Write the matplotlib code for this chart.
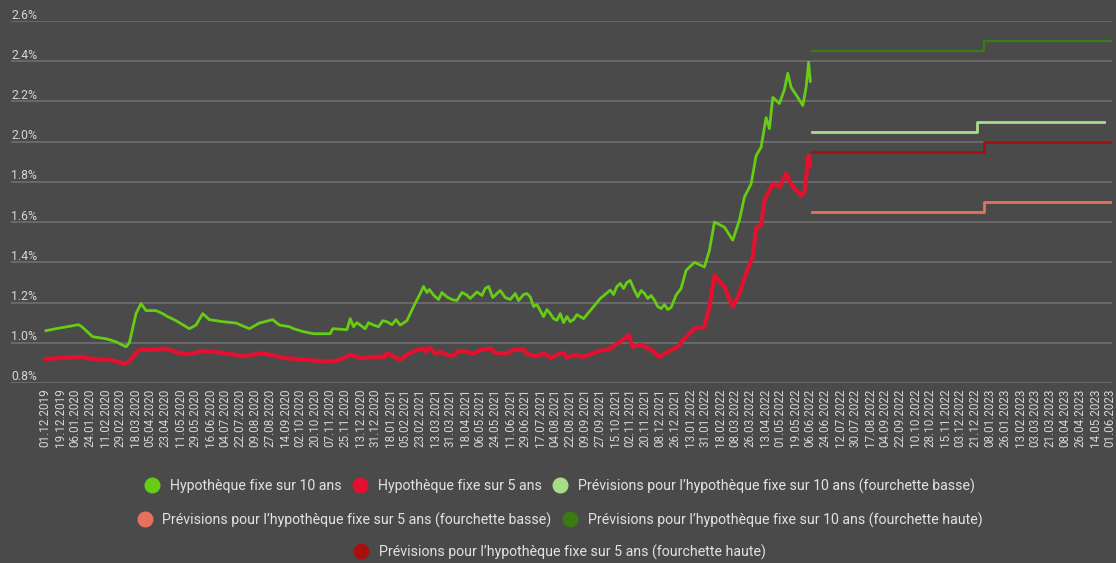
import numpy as np
import pandas as pd
import matplotlib
matplotlib.use("Agg")
import matplotlib.pyplot as plt
import matplotlib.transforms as mtransforms
from matplotlib.lines import Line2D

plt.rcParams['font.family'] = ['Roboto', 'DejaVu Sans']

# taux hypothecaire fixe 10 ans
dates_10 = ["2019-12-02", "2019-12-14", "2020-01-10", "2020-01-14", "2020-01-27", "2020-02-12",
            "2020-02-24", "2020-03-07", "2020-03-11", "2020-03-19", "2020-03-25", "2020-03-31",
            "2020-04-12", "2020-04-20", "2020-04-26", "2020-05-06", "2020-05-22", "2020-05-30",
            "2020-06-07", "2020-06-15", "2020-07-01", "2020-07-17", "2020-08-02", "2020-08-14",
            "2020-08-30", "2020-09-07", "2020-09-19", "2020-09-24", "2020-10-06", "2020-10-18",
            "2020-11-07", "2020-11-10", "2020-11-27", "2020-12-01", "2020-12-05", "2020-12-09",
            "2020-12-13", "2020-12-19", "2020-12-23", "2020-12-29", "2021-01-04", "2021-01-09",
            "2021-01-14", "2021-01-20", "2021-01-25", "2021-01-30", "2021-02-07", "2021-02-15",
            "2021-02-23", "2021-02-27", "2021-03-03", "2021-03-06", "2021-03-11", "2021-03-17",
            "2021-03-21", "2021-03-27", "2021-04-02", "2021-04-08", "2021-04-14", "2021-04-20",
            "2021-04-24", "2021-05-02", "2021-05-08", "2021-05-12", "2021-05-16", "2021-05-21",
            "2021-05-26", "2021-05-30", "2021-06-05", "2021-06-11", "2021-06-17", "2021-06-21",
            "2021-06-27", "2021-07-01", "2021-07-05", "2021-07-09", "2021-07-13", "2021-07-17",
            "2021-07-21", "2021-07-25", "2021-07-29", "2021-08-02", "2021-08-06", "2021-08-10",
            "2021-08-14", "2021-08-18", "2021-08-22", "2021-08-26", "2021-08-30", "2021-09-03",
            "2021-09-07", "2021-09-15", "2021-09-27", "2021-10-09", "2021-10-13", "2021-10-17",
            "2021-10-21", "2021-10-25", "2021-10-29", "2021-11-02", "2021-11-06", "2021-11-11",
            "2021-11-15", "2021-11-19", "2021-11-23", "2021-11-27", "2021-12-01", "2021-12-05",
            "2021-12-09", "2021-12-13", "2021-12-17", "2021-12-21", "2021-12-27", "2022-01-02",
            "2022-01-08", "2022-01-18", "2022-01-30", "2022-02-05", "2022-02-11", "2022-02-23",
            "2022-03-05", "2022-03-13", "2022-03-19", "2022-03-27", "2022-04-02", "2022-04-08",
            "2022-04-14", "2022-04-18", "2022-04-22", "2022-04-30", "2022-05-06", "2022-05-10",
            "2022-05-14", "2022-05-22", "2022-05-28", "2022-06-01", "2022-06-04", "2022-06-06"]
taux_10 = [1.06, 1.07, 1.09, 1.08, 1.03, 1.02,
           1.005, 0.98, 1.00, 1.145, 1.195, 1.16,
           1.16, 1.145, 1.13, 1.11, 1.07, 1.088,
           1.145, 1.115, 1.105, 1.098, 1.07, 1.098,
           1.115, 1.088, 1.08, 1.07, 1.055, 1.045,
           1.045, 1.07, 1.065, 1.12, 1.08, 1.10,
           1.088, 1.07, 1.10, 1.088, 1.08, 1.11,
           1.105, 1.09, 1.115, 1.088, 1.11, 1.18,
           1.245, 1.28, 1.25, 1.265, 1.237, 1.215,
           1.25, 1.228, 1.215, 1.21, 1.25, 1.237,
           1.22, 1.253, 1.235, 1.27, 1.28, 1.225,
           1.245, 1.26, 1.225, 1.215, 1.245, 1.21,
           1.24, 1.245, 1.228, 1.18, 1.19, 1.16,
           1.13, 1.165, 1.145, 1.12, 1.112, 1.145,
           1.10, 1.13, 1.105, 1.115, 1.14, 1.13,
           1.12, 1.16, 1.22, 1.262, 1.24, 1.28,
           1.295, 1.27, 1.30, 1.31, 1.27, 1.228,
           1.26, 1.245, 1.22, 1.235, 1.212, 1.18,
           1.17, 1.19, 1.165, 1.175, 1.237, 1.27,
           1.36, 1.40, 1.377, 1.46, 1.60, 1.575,
           1.51, 1.61, 1.725, 1.79, 1.93, 1.973,
           2.12, 2.065, 2.22, 2.19, 2.26, 2.34,
           2.27, 2.22, 2.18, 2.27, 2.395, 2.30]

# taux hypothecaire fixe 5 ans
dates_5 = ["2019-12-02", "2019-12-24", "2020-01-13", "2020-01-31", "2020-02-20", "2020-03-05",
           "2020-03-10", "2020-03-23", "2020-04-12", "2020-04-22", "2020-05-10", "2020-05-22",
           "2020-06-07", "2020-07-01", "2020-07-25", "2020-08-18", "2020-09-12", "2020-10-02",
           "2020-11-03", "2020-11-19", "2020-12-01", "2020-12-13", "2021-01-06", "2021-01-10",
           "2021-01-14", "2021-01-18", "2021-01-30", "2021-02-07", "2021-02-19", "2021-02-27",
           "2021-03-01", "2021-03-07", "2021-03-13", "2021-03-19", "2021-03-27", "2021-04-04",
           "2021-04-10", "2021-04-20", "2021-04-28", "2021-05-06", "2021-05-18", "2021-05-24",
           "2021-06-07", "2021-06-15", "2021-06-27", "2021-07-01", "2021-07-13", "2021-07-17",
           "2021-07-21", "2021-07-29", "2021-08-06", "2021-08-14", "2021-08-18", "2021-08-26",
           "2021-09-07", "2021-09-23", "2021-10-09", "2021-10-21", "2021-10-31", "2021-11-05",
           "2021-11-15", "2021-11-27", "2021-12-07", "2021-12-17", "2021-12-29", "2022-01-08",
           "2022-01-18", "2022-01-30", "2022-02-05", "2022-02-11", "2022-02-23", "2022-02-26",
           "2022-03-05", "2022-03-13", "2022-03-21", "2022-03-29", "2022-04-02", "2022-04-08",
           "2022-04-12", "2022-04-22", "2022-04-30", "2022-05-08", "2022-05-16", "2022-05-26",
           "2022-05-30", "2022-06-04", "2022-06-06"]
taux_5 = [0.92, 0.925, 0.93, 0.918, 0.913, 0.895,
          0.905, 0.965, 0.965, 0.972, 0.95, 0.944,
          0.96, 0.95, 0.934, 0.948, 0.925, 0.918,
          0.906, 0.915, 0.94, 0.924, 0.932, 0.925,
          0.948, 0.94, 0.915, 0.94, 0.965, 0.972,
          0.955, 0.975, 0.945, 0.955, 0.94, 0.935,
          0.96, 0.955, 0.945, 0.965, 0.972, 0.95,
          0.948, 0.965, 0.965, 0.945, 0.932, 0.94,
          0.95, 0.925, 0.94, 0.95, 0.925, 0.94,
          0.93, 0.955, 0.972, 1.005, 1.038, 0.98,
          0.99, 0.965, 0.93, 0.955, 0.98, 1.03,
          1.07, 1.078, 1.18, 1.336, 1.278, 1.245,
          1.18, 1.245, 1.345, 1.43, 1.57, 1.585,
          1.71, 1.79, 1.775, 1.84, 1.775, 1.733,
          1.75, 1.93, 1.88]

# previsions (paliers)
prev_dates = ["2022-06-08", "2023-01-01", "2023-06-03"]
prev_dates_10_bas = ["2022-06-08", "2022-12-23", "2023-05-24"]
prev_10_bas = [2.05, 2.10, 2.10]
prev_5_bas = [1.65, 1.70, 1.70]
prev_10_haut = [2.45, 2.50, 2.50]
prev_5_haut = [1.95, 2.00, 2.00]

labels = ["Hypothèque fixe sur 10 ans",
          "Hypothèque fixe sur 5 ans",
          "Prévisions pour l’hypothèque fixe sur 10 ans (fourchette basse)",
          "Prévisions pour l’hypothèque fixe sur 5 ans (fourchette basse)",
          "Prévisions pour l’hypothèque fixe sur 10 ans (fourchette haute)",
          "Prévisions pour l’hypothèque fixe sur 5 ans (fourchette haute)"]
couleurs = ["#66cc14", "#e3102f", "#a8dd88", "#e8705e", "#3c7a14", "#a81010"]

s10 = pd.Series(taux_10, index=pd.to_datetime(dates_10)).sort_index()
s5 = pd.Series(taux_5, index=pd.to_datetime(dates_5)).sort_index()

bg = "#4a4a4a"
fig = plt.figure(figsize=(11.16, 5.63), dpi=100, facecolor=bg)
ax = fig.add_axes([11 / 1116, 1 - 383 / 563, 1101 / 1116, 362 / 563])
ax.set_facecolor(bg)

ax.plot(s5.index, s5.values, color=couleurs[1], lw=3.0, zorder=3)
ax.plot(s10.index, s10.values, color=couleurs[0], lw=2.0, zorder=4)
ax.plot(pd.to_datetime(prev_dates_10_bas), prev_10_bas, color=couleurs[2], lw=2.0, drawstyle="steps-post")
ax.plot(pd.to_datetime(prev_dates), prev_5_bas, color=couleurs[3], lw=2.0, drawstyle="steps-post")
ax.plot(pd.to_datetime(prev_dates), prev_10_haut, color=couleurs[4], lw=1.6, drawstyle="steps-post")
ax.plot(pd.to_datetime(prev_dates), prev_5_haut, color=couleurs[5], lw=2.0, drawstyle="steps-post")

ax.set_xlim(pd.Timestamp("2019-10-21"), pd.Timestamp("2023-06-03"))
ax.set_ylim(0.8, 2.6)

yticks = np.arange(0.8, 2.61, 0.2)
ax.set_yticks(yticks)
ax.set_yticklabels([])
ax.tick_params(axis="y", length=0)
ax.grid(axis="y", color="#6c6c6c", lw=1.3, zorder=0)
for s in ax.spines.values():
    s.set_visible(False)

trans = mtransforms.blended_transform_factory(ax.transAxes, ax.transData)
trans = trans + mtransforms.ScaledTranslation(0, 2.5 / 100, fig.dpi_scale_trans)
for v in yticks:
    ax.text(0, v, "%.1f%%" % v, transform=trans, ha="left", va="baseline",
            fontsize=8.8, color="#d6d6d6")

xticks = pd.date_range("2019-12-01", "2023-06-01", freq="18D")
ax.set_xticks(xticks)
ax.set_xticklabels([d.strftime("%d.%m.%Y") for d in xticks], rotation=90,
                   fontsize=8.4, color="#d6d6d6")
ax.tick_params(axis="x", length=0, pad=4)

handles = [Line2D([], [], ls="none", marker="o", markersize=10.5, color=c) for c in couleurs]
rows = [([0, 1, 2], 486), ([3, 4], 520), ([5], 552)]
for idx, ypx in rows:
    fig.legend([handles[i] for i in idx], [labels[i] for i in idx], loc="center",
               bbox_to_anchor=(560 / 1116, 1 - ypx / 563), ncol=len(idx), frameon=False,
               fontsize=10.2, labelcolor="#e2e2e2", handlelength=1.0, handletextpad=0.75,
               columnspacing=0.8, borderpad=0)

fig.savefig("out.png", dpi=100, facecolor=bg)
